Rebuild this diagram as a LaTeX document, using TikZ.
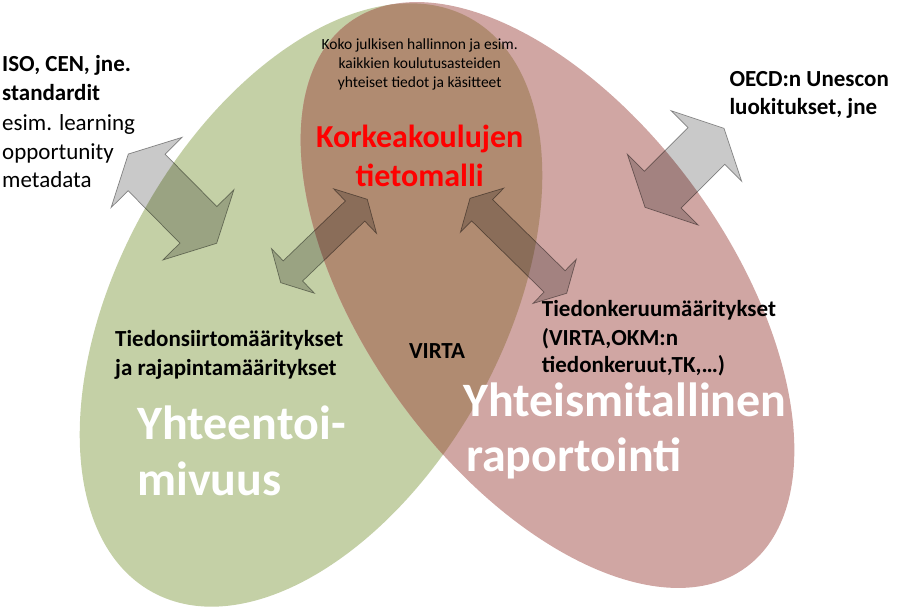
\documentclass[tikz,border=0pt]{standalone}
\usepackage{fontspec}
\setmainfont{Carlito}
\usetikzlibrary{calc}
\definecolor{ellgreen}{RGB}{196,208,166}
\definecolor{ellpink}{RGB}{208,166,163}
\definecolor{ellbrown}{RGB}{176,139,113}
\definecolor{titlered}{RGB}{255,0,0}
% double block arrow: #1 tip A, #2 tip B, #3 head length, #4 head half width, #5 shaft half width, #6 style
\newcommand{\dblblockarrow}[6]{%
  \path ($(#1)!#3!(#2)$) coordinate (#1h) ($(#2)!#3!(#1)$) coordinate (#2h);
  \draw[#6] (#1) -- ($(#1h)!#4!90:(#2)$) -- ($(#1h)!#5!90:(#2)$) -- ($(#2h)!#5!-90:(#1)$)
    -- ($(#2h)!#4!-90:(#1)$) -- (#2) -- ($(#2h)!#4!90:(#1)$) -- ($(#2h)!#5!90:(#1)$)
    -- ($(#1h)!#5!-90:(#2)$) -- ($(#1h)!#4!-90:(#2)$) -- cycle;
}
\begin{document}
\begin{tikzpicture}[x=1pt,y=-1pt,
  blockarrow/.style={fill=black, fill opacity=0.21, draw=black, draw opacity=0.42, line width=0.7pt, line join=miter},
  sidetext/.style={font=\fontsize{23}{28}\selectfont\bfseries, anchor=base west, inner sep=0pt},
  sideplain/.style={font=\fontsize{23}{28}\selectfont, anchor=base west, inner sep=0pt},
  toptext/.style={font=\fontsize{15.5}{18.6}\selectfont, anchor=base, inner sep=0pt},
  titletext/.style={font=\fontsize{32}{38}\selectfont\bfseries, text=titlered, anchor=base, inner sep=0pt},
  bigwhite/.style={font=\fontsize{48}{56}\selectfont\bfseries, text=white, anchor=base west, inner sep=0pt}]
\path[use as bounding box] (0,0) rectangle (902,610);
\begin{scope}
  \clip (0,0) rectangle (902,610);
  \fill[ellgreen, rotate around={61:(311,305)}] (311,305) ellipse [x radius=328, y radius=192];
  \fill[ellpink, rotate around={126:(547.5,295)}] (547.5,295) ellipse [x radius=337, y radius=182];
  \begin{scope}
    \clip[rotate around={61:(311,305)}] (311,305) ellipse [x radius=328, y radius=192];
    \fill[ellbrown, rotate around={126:(547.5,295)}] (547.5,295) ellipse [x radius=337, y radius=182];
  \end{scope}
\end{scope}

% arrow tips
\coordinate (a1s) at (128.3,154);
\coordinate (a1e) at (216.7,243.3);
\coordinate (a2s) at (367.3,199.3);
\coordinate (a2e) at (280.7,282.7);
\coordinate (a3s) at (470,198.3);
\coordinate (a3e) at (566.7,293.3);
\coordinate (a4s) at (724,128.3);
\coordinate (a4e) at (645,207.3);
\dblblockarrow{a1s}{a1e}{26pt}{50pt}{26pt}{blockarrow}
\dblblockarrow{a2s}{a2e}{17pt}{31pt}{14pt}{blockarrow}
\dblblockarrow{a3s}{a3e}{17pt}{31pt}{15pt}{blockarrow}
\dblblockarrow{a4s}{a4e}{25pt}{50pt}{26pt}{blockarrow}

% texts
\node[sidetext] (iso1) at (2,71.7) {ISO, CEN, jne.};
\node[sidetext] (iso2) at (2,100.7) {standardit};
\node[sideplain] (iso3) at (2,130) {esim. learning};
\node[sideplain] (iso4) at (2,159) {opportunity};
\node[sideplain] (iso5) at (2,187.5) {metadata};

\node[toptext] (top1) at (419.7,50) {Koko julkisen hallinnon ja esim.};
\node[toptext] (top2) at (419.7,68.6) {kaikkien koulutusasteiden};
\node[toptext] (top3) at (419.7,87.2) {yhteiset tiedot ja käsitteet};

\node[titletext] (tit1) at (419.7,147.3) {Korkeakoulujen};
\node[titletext] (tit2) at (419.7,186) {tietomalli};

\node[sidetext] (oecd1) at (729.3,86) {OECD:n Unescon};
\node[sidetext] (oecd2) at (729.3,114) {luokitukset, jne};

\node[sidetext] (ts1) at (115,346.7) {Tiedonsiirtomääritykset};
\node[sidetext] (ts2) at (115,375) {ja rajapintamääritykset};

\node[sidetext, anchor=base] (virta) at (437,358) {VIRTA};

\node[sidetext] (tk1) at (541.7,316.7) {Tiedonkeruumääritykset};
\node[sidetext] (tk2) at (541.7,345) {(VIRTA,OKM:n};
\node[sidetext] (tk3) at (541.7,372.7) {tiedonkeruut,TK,…)};

\node[bigwhite] (yt1) at (137,439) {Yhteentoi-};
\node[bigwhite] (yt2) at (137,495) {mivuus};
\node[bigwhite] (ym1) at (463,416.7) {Yhteismitallinen};
\node[bigwhite] (ym2) at (466,471.7) {raportointi};
\end{tikzpicture}
\end{document}
